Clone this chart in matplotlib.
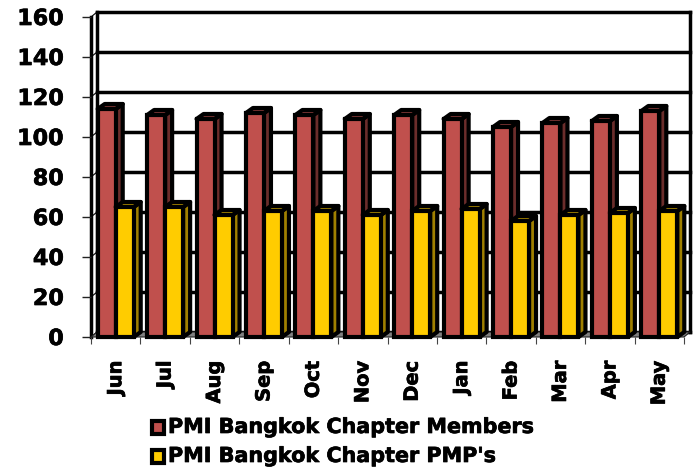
import numpy as np
import matplotlib
matplotlib.use("Agg")
import matplotlib.pyplot as plt
import matplotlib.patheffects as pe
from matplotlib.patches import Polygon, Rectangle

months = ["Jun", "Jul", "Aug", "Sep", "Oct", "Nov", "Dec", "Jan", "Feb", "Mar", "Apr", "May"]
members = [114, 111, 109, 112, 111, 109, 111, 109, 105, 107, 108, 113]
pmps = [65, 65, 61, 63, 63, 61, 63, 64, 58, 61, 62, 63]
series_names = ["PMI Bangkok Chapter Members", "PMI Bangkok Chapter PMP's"]
y_ticks = [0, 20, 40, 60, 80, 100, 120, 140, 160]

W, H = 699, 470
L, R, B, T = 91, 684, 337, 17
LW = 2.5
BLW = 3.0
heavy = [pe.withStroke(linewidth=0.5, foreground="k")]
plt.rcParams["font.family"] = "DejaVu Sans"
fig = plt.figure(figsize=(W / 100, H / 100), dpi=100)
ax = fig.add_axes([L / W, 1 - B / H, (R - L) / W, (B - T) / H])
ax.set_xlim(0, 12)
ax.set_ylim(0, 160)
ax.patch.set_visible(False)
for s in ax.spines.values():
    s.set_visible(False)

DX = 6 / ((R - L) / 12)   # depth in category units
DY = 5 / 2                # depth in value units
BDX = 7 / ((R - L) / 12)  # bar depth

# back wall grid
for v in y_ticks:
    ax.plot([DX, 12 + DX], [v + DY, v + DY], color="k", lw=LW, zorder=1,
            clip_on=False, solid_capstyle="projecting")
    ax.plot([0, DX], [v, v + DY], color="k", lw=0.8, zorder=1, clip_on=False)
ax.plot([DX, DX], [DY, 160 + DY], color="k", lw=LW, zorder=1, clip_on=False)
ax.plot([12 + DX, 12 + DX], [DY, 160 + DY], color="k", lw=LW, zorder=1, clip_on=False)
ax.plot([0, 0], [0, 160], color="k", lw=LW, zorder=1, clip_on=False)

# floor
ax.add_patch(Polygon([(0, 0), (12, 0), (12 + DX, DY), (DX, DY)], closed=True,
                     facecolor="#808080", edgecolor="#222222", lw=0.8, zorder=1.5, clip_on=False))


def bar3d(ax, x, w, v, front, side, top, z):
    ax.add_patch(Polygon([(x + w, 0), (x + w + BDX, DY), (x + w + BDX, v + DY), (x + w, v)],
                         closed=True, fc=side, ec="k", lw=BLW, zorder=z, joinstyle="round", clip_on=False))
    ax.add_patch(Polygon([(x, v), (x + w, v), (x + w + BDX, v + DY), (x + BDX, v + DY)],
                         closed=True, fc=top, ec="k", lw=BLW, zorder=z, joinstyle="round", clip_on=False))
    ax.bar(x, v, width=w, align="edge", color=front, edgecolor="k", linewidth=BLW, zorder=z + 0.1, clip_on=False)


BW = 18 / ((R - L) / 12)
for i in range(12):
    x0 = i + 0.5 - BW
    bar3d(ax, x0, BW, members[i], "#c0504d", "#6b2d2b", "#8c3d3a", 3 + i * 0.01)
    bar3d(ax, x0 + BW, BW, pmps[i], "#ffcc00", "#a08000", "#b89400", 3.5 + i * 0.01)

ax.set_yticks(y_ticks)
ax.set_yticklabels([str(v) for v in y_ticks], fontsize=16, fontweight="bold", path_effects=heavy)
ax.set_xticks(range(13))
ax.set_xticklabels([""] * 13)
ax.set_xticks(np.arange(12) + 0.5, labels=months, minor=True, fontweight="bold", path_effects=heavy)
ax.tick_params(axis="x", which="major", length=5, width=0.8, color="#444444")
ax.tick_params(axis="x", which="minor", length=0, labelsize=14, labelrotation=90, pad=17)
ax.tick_params(axis="y", length=6.5, width=1.0, color="#222222", pad=13)

# legend
for yp, name, col in zip([427, 456], series_names, ["#c0504d", "#ffcc00"]):
    fig.add_artist(Rectangle((152 / W, 1 - (yp + 6.5) / H), 12 / W, 13 / H, transform=fig.transFigure,
                             fc=col, ec="k", lw=3))
    fig.text(168 / W, 1 - yp / H, name, fontsize=14.9, fontweight="bold", va="center", ha="left",
             path_effects=heavy)

fig.savefig("out.png", dpi=100)
